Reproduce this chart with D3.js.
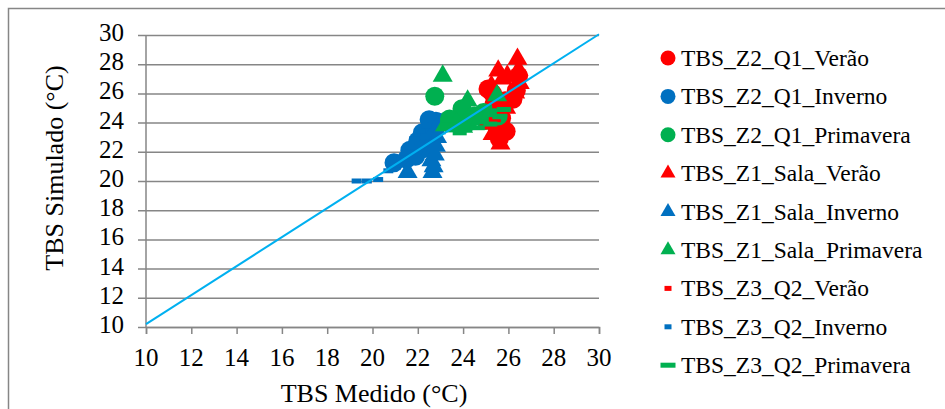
<!DOCTYPE html>
<html>
<head>
<meta charset="utf-8">
<script src="https://cdn.jsdelivr.net/npm/d3@7"></script>
<style>
    body { margin: 0; background: white; }
    text { font-family: "Liberation Serif", "Times New Roman", serif; fill: #000; }
</style>
</head>
<body>
<div id="chart"></div>
<script>
// Medido / Simulado pairs for each series
const z2q1Verao      = [[25.1, 26.3], [26.45, 27.2], [26.35, 26.2], [25.5, 23.6], [25.6, 22.9], [25.85, 25.5], [25.3, 26.0],
                        [25.35, 25.2], [25.9, 23.4], [26.2, 25.6], [25.7, 24.3]];
const z2q1Inverno    = [[20.95, 21.25], [21.65, 22.1], [22.0, 22.75], [22.2, 23.3], [22.55, 23.8], [22.8, 24.1], [23.0, 24.0], [22.35, 22.9],
                        [21.9, 21.7], [22.2, 22.2], [21.5, 21.5], [22.5, 24.2]];
const z2q1Primavera  = [[22.75, 25.8], [23.95, 24.95], [24.5, 24.45], [25.0, 24.15], [23.4, 24.25], [25.55, 24.45], [24.2, 24.0], [24.9, 24.7]];
const z1SalaVerao     = [[26.4, 28.35], [25.55, 27.55], [25.95, 27.2], [26.5, 26.7], [26.3, 26.05], [25.65, 22.55], [25.25, 26.5], [25.9, 25.0],
                        [26.45, 27.6], [25.75, 27.0], [25.3, 23.2]];
const z1SalaInverno   = [[21.55, 20.6], [22.65, 20.6], [22.6, 21.4], [22.55, 22.1], [22.6, 22.7], [22.45, 23.25], [22.8, 23.6],
                        [22.7, 21.0], [22.75, 21.8], [22.8, 22.4], [22.85, 23.0]];
const z1SalaPrimavera = [[23.1, 27.2], [24.2, 25.5], [25.5, 25.85], [23.2, 23.8], [23.7, 24.0], [24.75, 24.25], [24.0, 23.7], [25.2, 24.6]];
const z3q2Verao      = [[25.0, 23.7], [25.55, 25.15], [25.4, 24.2]];
const z3q2Inverno    = [[19.3, 20.0], [19.75, 20.0], [20.25, 20.1], [20.7, 20.7], [21.3, 21.6], [21.65, 22.35], [21.85, 22.9], [22.1, 23.4],
                        [21.1, 21.1], [22.4, 23.8]];
const z3q2Primavera  = [[23.3, 24.15], [23.85, 23.3], [24.65, 23.65], [25.2, 23.9], [25.6, 24.4], [25.8, 24.9], [23.5, 23.5]];

const seriesNames = [
    "TBS_Z2_Q1_Verão", "TBS_Z2_Q1_Inverno", "TBS_Z2_Q1_Primavera",
    "TBS_Z1_Sala_Verão", "TBS_Z1_Sala_Inverno", "TBS_Z1_Sala_Primavera",
    "TBS_Z3_Q2_Verão", "TBS_Z3_Q2_Inverno", "TBS_Z3_Q2_Primavera"
];

// Axis ticks and the reference line (start / end)
const xTicks = [10, 12, 14, 16, 18, 20, 22, 24, 26, 28, 30];
const yTicks = [10, 12, 14, 16, 18, 20, 22, 24, 26, 28, 30];
const refLine = [[10, 10.2], [30, 30.05]];

const red = "#FF0000", blue = "#0070C0", green = "#00B050";

// Series table: data + how to draw it
const series = [
    { data: z2q1Verao, color: red, shape: "circle" },
    { data: z2q1Inverno, color: blue, shape: "circle" },
    { data: z2q1Primavera, color: green, shape: "circle" },
    { data: z1SalaVerao, color: red, shape: "triangle" },
    { data: z1SalaInverno, color: blue, shape: "triangle" },
    { data: z1SalaPrimavera, color: green, shape: "triangle" },
    { data: z3q2Verao, color: red, shape: "dash", dashW: 12, legendW: 7 },
    { data: z3q2Inverno, color: blue, shape: "dash", dashW: 10, legendW: 7 },
    { data: z3q2Primavera, color: green, shape: "dash", dashW: 14, legendW: 15 }
].map((s, i) => ({ ...s, name: seriesNames[i] }));

const width = 945, height = 409;
const font = "'Liberation Serif', 'Times New Roman', serif";

const svg = d3.select("#chart")
    .append("svg")
    .attr("width", width)
    .attr("height", height)
    .attr("font-family", font);

// Chart border (right and bottom sides fall outside the picture)
svg.append("rect")
    .attr("x", 8.5).attr("y", 8.5)
    .attr("width", width).attr("height", height)
    .attr("fill", "none")
    .attr("stroke", "#868686")
    .attr("stroke-width", 1.5);

const x = d3.scaleLinear().domain([10, 30]).range([146, 599]);
const y = d3.scaleLinear().domain([10, 30]).range([327, 35]);

// Horizontal gridlines + y ticks
svg.append("g")
    .attr("transform", `translate(${x(10)},0)`)
    .call(d3.axisLeft(y).tickValues(yTicks).tickSize(-(x(30) - x(10))).tickFormat(""))
    .call(g => g.select(".domain").remove())
    .call(g => g.selectAll("line").attr("stroke", "#868686").attr("stroke-width", 1.5).attr("x2", x(30) - x(10)).attr("x1", -8));

svg.selectAll(".ylab")
    .data(yTicks)
    .enter()
    .append("text")
    .attr("class", "ylab")
    .attr("x", 124)
    .attr("y", d => y(d) + 6)
    .attr("text-anchor", "end")
    .attr("font-family", font)
    .attr("font-size", "25px")
    .text(d => d);

// Y axis line
svg.append("line")
    .attr("x1", x(10)).attr("x2", x(10))
    .attr("y1", y(30)).attr("y2", y(10))
    .attr("stroke", "#868686").attr("stroke-width", 1.5);

// X axis
svg.append("g")
    .attr("transform", `translate(0,${y(10)})`)
    .call(d3.axisBottom(x).tickValues(xTicks).tickSize(7).tickFormat(""))
    .call(g => g.select(".domain").attr("stroke", "#868686").attr("stroke-width", 1.5))
    .call(g => g.selectAll("line").attr("stroke", "#868686").attr("stroke-width", 1.5));

svg.selectAll(".xlab")
    .data(xTicks)
    .enter()
    .append("text")
    .attr("class", "xlab")
    .attr("x", d => x(d))
    .attr("y", 366)
    .attr("text-anchor", "middle")
    .attr("font-family", font)
    .attr("font-size", "25px")
    .text(d => d);

// Axis titles
svg.append("text")
    .attr("x", 374).attr("y", 402)
    .attr("text-anchor", "middle")
    .attr("font-family", font)
    .attr("font-size", "26px")
    .text("TBS Medido (°C)");

svg.append("text")
    .attr("transform", "translate(63,168) rotate(-90)")
    .attr("text-anchor", "middle")
    .attr("font-family", font)
    .attr("font-size", "26px")
    .text("TBS Simulado (°C)");

// Draw one marker at (cx, cy)
function marker(g, s, cx, cy, legend) {
    if (s.shape === "circle") {
        g.append("circle")
            .attr("cx", cx).attr("cy", cy)
            .attr("r", legend ? 7.5 : 9.5)
            .attr("fill", s.color);
    } else if (s.shape === "triangle") {
        const w = legend ? 15 : 20;
        g.append("path")
            .attr("transform", `translate(${cx},${cy})`)
            .attr("d", d3.symbol(d3.symbolTriangle, Math.sqrt(3) / 4 * w * w)())
            .attr("fill", s.color);
    } else {
        const w = legend ? s.legendW : s.dashW;
        g.append("rect")
            .attr("x", cx - w / 2).attr("y", cy - 2.5)
            .attr("width", w).attr("height", 5)
            .attr("fill", s.color);
    }
}

// Points, series in Excel drawing order
const points = svg.append("g");
series.forEach(s => {
    s.data.forEach(d => marker(points, s, x(d[0]), y(d[1]), false));
});

// Reference line on top
svg.append("line")
    .attr("x1", x(refLine[0][0])).attr("y1", y(refLine[0][1]))
    .attr("x2", x(refLine[1][0])).attr("y2", y(refLine[1][1]))
    .attr("stroke", "#00B0F0")
    .attr("stroke-width", 2);

// Legend
const legend = svg.append("g");
series.forEach((s, i) => {
    const ly = 58 + i * 38.4;
    marker(legend, s, 668, ly, true);
    legend.append("text")
        .attr("x", 681)
        .attr("y", ly + 8)
        .attr("font-family", font)
        .attr("font-size", "23.5px")
        .text(s.name);
});
</script>
</body>
</html>
